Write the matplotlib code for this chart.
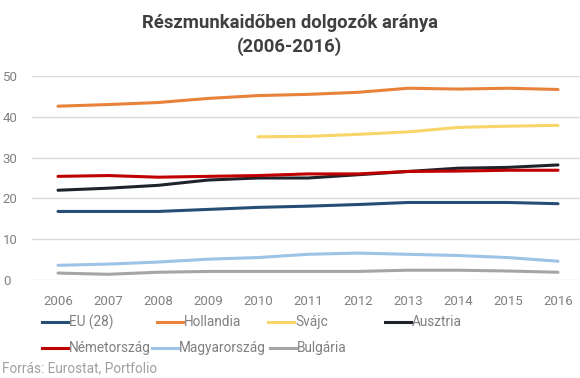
import matplotlib
matplotlib.use("Agg")
import matplotlib.pyplot as plt
from matplotlib.lines import Line2D

plt.rcParams['font.family'] = ['Roboto', 'DejaVu Sans']

years = list(range(2006, 2017))
eu = [16.8, 16.8, 16.8, 17.3, 17.8, 18.1, 18.5, 19.0, 19.0, 19.0, 18.7]
hollandia = [42.6, 43.0, 43.5, 44.5, 45.2, 45.5, 46.0, 47.0, 46.8, 47.0, 46.7]
svajc = [None, None, None, None, 35.1, 35.2, 35.7, 36.3, 37.4, 37.7, 37.9]
ausztria = [22.0, 22.5, 23.2, 24.5, 25.0, 25.0, 25.8, 26.6, 27.4, 27.6, 28.2]
nemet = [25.4, 25.6, 25.2, 25.4, 25.6, 26.0, 26.0, 26.6, 26.7, 26.9, 26.9]
magyar = [3.6, 3.9, 4.4, 5.1, 5.5, 6.3, 6.6, 6.3, 6.0, 5.5, 4.6]
bulgaria = [1.7, 1.4, 1.9, 2.1, 2.1, 2.1, 2.1, 2.4, 2.4, 2.2, 1.9]

names = ["EU (28)", "Hollandia", "Svájc", "Ausztria", "Németország", "Magyarország", "Bulgária"]
series = [eu, hollandia, svajc, ausztria, nemet, magyar, bulgaria]
colors = ["#264d73", "#e8823a", "#f8d568", "#1f232c", "#c00000", "#9dc3e6", "#a5a5a5"]
yticks = [0, 10, 20, 30, 40, 50]

W, H = 580, 378
fig = plt.figure(figsize=(W / 100, H / 100), dpi=100)
ax = fig.add_axes([32 / W, 1 - 280 / H, (W - 32) / W, (280 - 76) / H])
ax.set_ylim(0, 50)
ax.set_xlim(2006 - 26 / 50, 2016 + 22 / 50)

for vals, c, n in zip(series, colors, names):
    xs = [y for y, v in zip(years, vals) if v is not None]
    vs = [v for v in vals if v is not None]
    ax.plot(xs, vs, color=c, lw=2.2, solid_capstyle='round', label=n, zorder=3)

ax.set_yticks(yticks)
ax.set_xticks(years)
ax.grid(axis='y', color='#d9d9d9', lw=1)
for s in ax.spines.values():
    s.set_visible(False)
ax.tick_params(axis='both', length=0, colors='#808080', labelsize=9.5)
ax.tick_params(axis='y', pad=21)
for lab in ax.get_yticklabels():
    lab.set_horizontalalignment('left')
ax.tick_params(axis='x', pad=11)

fig.text(0.5, 1 - 23 / H, "Részmunkaidőben dolgozók aránya", ha='center', va='center',
         fontsize=13.3, fontweight='bold', color='#404040')
fig.text(0.5, 1 - 47 / H, "(2006-2016)", ha='center', va='center',
         fontsize=13.3, fontweight='bold', color='#404040')

# legend entries placed in a flow layout
leg_pos = [(42, 322), (157, 322), (268, 322), (385, 322),
           (42, 348), (152, 348), (270, 348)]
for (px, py), c, n in zip(leg_pos, colors, names):
    fig.lines.append(Line2D([px / W, (px + 26) / W], [1 - py / H, 1 - py / H],
                            transform=fig.transFigure, color=c, lw=2.2))
    fig.text((px + 27) / W, 1 - py / H, n, ha='left', va='center',
             fontsize=9.8, color='#808080')

fig.text(2 / W, 1 - 368 / H, "Forrás: Eurostat, Portfolio", ha='left', va='center',
         fontsize=9.8, color='#a0a0a0')

fig.savefig("out.png", dpi=100)
